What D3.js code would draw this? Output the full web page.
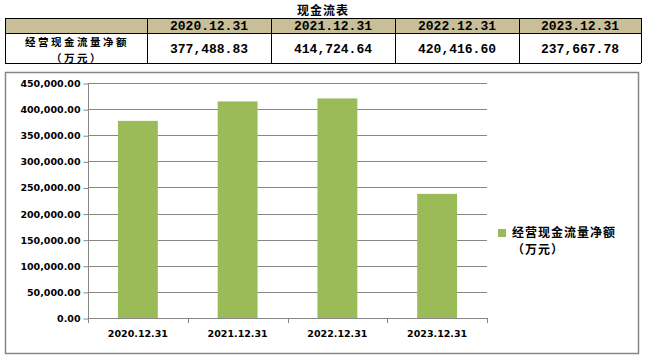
<!DOCTYPE html>
<html><head><meta charset="utf-8">
<script src="https://cdn.jsdelivr.net/npm/d3@7"></script>
<style>body{margin:0;background:#fff}</style>
</head><body>
<svg id="c" width="645" height="359"></svg>
<script>
const categories = ["2020.12.31","2021.12.31","2022.12.31","2023.12.31"];
const values = [377488.83, 414724.64, 420416.60, 237667.78];
const valueLabels = ["377,488.83","414,724.64","420,416.60","237,667.78"];
const seriesName = ["经营现金流量净额","（万元）"];
const yTicks = [0,50000,100000,150000,200000,250000,300000,350000,400000,450000];
const title = "现金流表";

const svg = d3.select("#c");
const cjk = "'Noto Sans CJK SC', sans-serif";
const mono = "'Liberation Mono', 'DejaVu Sans Mono', monospace";

// ---- Table ----
svg.append("text").attr("x",323).attr("y",9.5).attr("text-anchor","middle")
  .attr("dominant-baseline","central").attr("font-family",cjk).attr("font-weight","bold")
  .attr("font-size",12).attr("letter-spacing",1).text(title);

const colX = [5,147,271,395,519,641];
const rowY = [18,33,63];
svg.append("rect").attr("x",colX[0]).attr("y",rowY[0]).attr("width",colX[5]-colX[0])
  .attr("height",rowY[1]-rowY[0]).attr("fill","#c8bf98");
const tg = svg.append("g").attr("stroke","#000").attr("stroke-width",1).attr("shape-rendering","crispEdges");
rowY.forEach(y=>tg.append("line").attr("x1",colX[0]).attr("x2",colX[5]).attr("y1",y+0.5).attr("y2",y+0.5));
colX.forEach(x=>tg.append("line").attr("x1",x+0.5).attr("x2",x+0.5).attr("y1",rowY[0]).attr("y2",rowY[2]));
categories.forEach((c,i)=>{
  const cx=(colX[i+1]+colX[i+2])/2;
  svg.append("text").attr("x",cx).attr("y",26).attr("text-anchor","middle").attr("dominant-baseline","central")
    .attr("font-family",mono).attr("font-weight","bold").attr("font-size",13).text(c);
  svg.append("text").attr("x",cx).attr("y",49).attr("text-anchor","middle").attr("dominant-baseline","central")
    .attr("font-family",mono).attr("font-weight","bold").attr("font-size",13).text(valueLabels[i]);
});
const rowHead = svg.append("text").attr("text-anchor","middle")
  .attr("font-family",cjk).attr("font-weight","bold").attr("font-size",10.5).attr("letter-spacing",2.5);
rowHead.append("tspan").attr("x",(colX[0]+colX[1])/2+1).attr("y",46).text(seriesName[0]);
rowHead.append("tspan").attr("x",(colX[0]+colX[1])/2+1).attr("y",61.5).text(seriesName[1]);

// ---- Chart frame ----
svg.append("rect").attr("x",5.5).attr("y",72.5).attr("width",633).attr("height",281)
  .attr("fill","none").attr("stroke","#868686").attr("stroke-width",1.5);

const x = d3.scaleBand().domain(categories).range([88,487]).paddingInner(0.6).paddingOuter(0.3);
const y = d3.scaleLinear().domain([0,450000]).range([318,83]);

svg.append("g").selectAll("line").data(yTicks.filter(d=>d>0)).join("line")
  .attr("x1",88).attr("x2",487).attr("y1",d=>Math.round(y(d))+0.5).attr("y2",d=>Math.round(y(d))+0.5)
  .attr("stroke","#868686").attr("stroke-width",1);

svg.append("g").selectAll("rect").data(values).join("rect")
  .attr("x",(d,i)=>x(categories[i])).attr("width",x.bandwidth())
  .attr("y",d=>y(d)).attr("height",d=>y(0)-y(d)).attr("fill","#9bbb59");

const yAxis = d3.axisLeft(y).tickValues(yTicks).tickSize(5).tickPadding(3)
  .tickFormat(d=>d3.format(",.2f")(d));
const ya = svg.append("g").attr("transform","translate(88.5,0.5)").call(yAxis);
ya.select(".domain").attr("stroke","#868686").attr("d","M0,83V318");
ya.selectAll(".tick line").attr("stroke","#868686");
ya.selectAll(".tick text").attr("font-family","'DejaVu Sans', sans-serif").attr("font-weight","bold")
  .attr("font-size",9.5).attr("fill","#000");

const xAxis = d3.axisBottom(x).tickSize(0).tickPadding(10);
const xa = svg.append("g").attr("transform","translate(0,318.5)").call(xAxis);
xa.select(".domain").attr("stroke","#868686").attr("d","M88,0H487");
xa.selectAll(".tick text").attr("font-family","'DejaVu Sans', sans-serif").attr("font-weight","bold")
  .attr("font-size",9.5).attr("fill","#000").attr("dy","0.9em");
const edges = d3.range(categories.length+1).map(i=>88+i*(487-88)/categories.length);
svg.append("g").selectAll("line").data(edges).join("line")
  .attr("x1",d=>Math.round(d)+0.5).attr("x2",d=>Math.round(d)+0.5).attr("y1",318).attr("y2",323)
  .attr("stroke","#868686");

// legend
svg.append("rect").attr("x",498).attr("y",229).attr("width",8).attr("height",8).attr("fill","#9bbb59");
const leg = svg.append("text").attr("font-family",cjk).attr("font-weight","bold").attr("font-size",12).attr("letter-spacing",1);
leg.append("tspan").attr("x",512).attr("y",237).text(seriesName[0]);
leg.append("tspan").attr("x",512).attr("y",254).text(seriesName[1]);
</script>
</body></html>
